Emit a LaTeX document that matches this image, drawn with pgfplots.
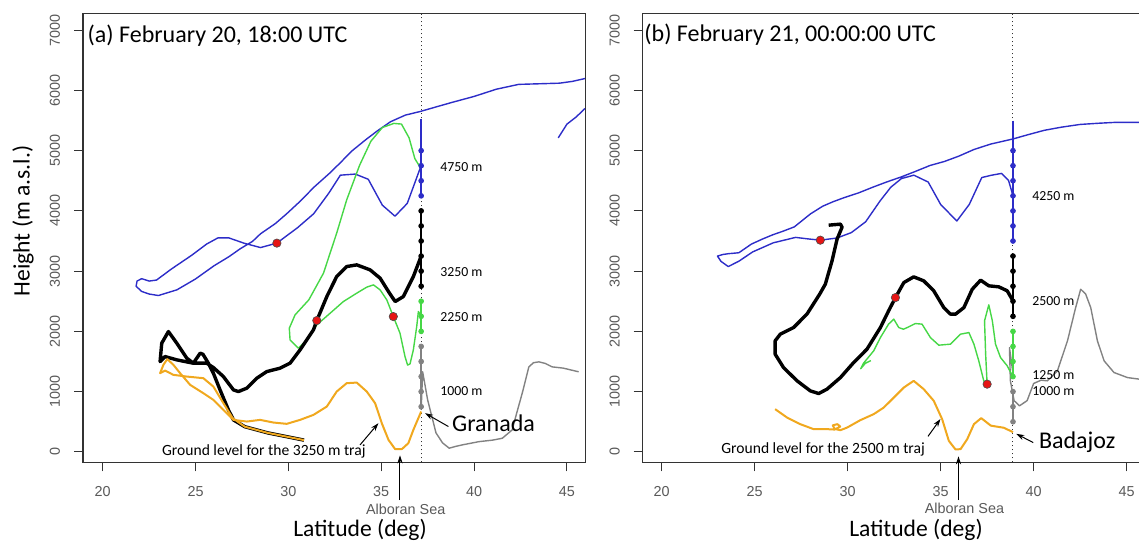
\documentclass[border=0pt]{standalone}
\usepackage{pgfplots}
\pgfplotsset{compat=1.18}
\usetikzlibrary{arrows.meta}
\usepackage{fontspec}
\setmainfont{Carlito}
\newfontfamily\arialfont{Liberation Sans}
\definecolor{trajblue}{RGB}{45,45,200}
\definecolor{trajgreen}{RGB}{70,215,70}
\definecolor{trajorange}{RGB}{240,168,30}
\definecolor{trajgray}{RGB}{130,130,130}
\definecolor{dotred}{RGB}{230,20,20}
\newcommand{\tickfont}{\arialfont\fontsize{7.2}{8}\selectfont}
\newcommand{\labfont}{\fontsize{11.8}{13}\selectfont}
\newcommand{\hfont}{\fontsize{6.9}{8}\selectfont}
\newcommand{\gfont}{\fontsize{7.8}{9}\selectfont}
\newcommand{\seafont}{\arialfont\fontsize{7.2}{8}\selectfont}

\tikzset{arr/.style={-{Stealth[length=4pt,width=2.6pt]}, line width=0.5pt, black}}
\pgfplotsset{
  panel/.style={
    scale only axis, width=251.25pt, height=224.4pt,
    xmax=46, ymin=-175, ymax=7275,
    xtick={20,25,30,35,40,45}, ytick={0,1000,2000,3000,4000,5000,6000,7000},
    xticklabels={20,25,30,35,40,45},
    yticklabels={0,1000,2000,3000,4000,5000,6000,7000},
    xtick pos=bottom, ytick pos=left,
    tick align=outside, major tick length=4.5pt,
    axis line style={black!80, line width=0.6pt},
    tick style={black!80, line width=0.5pt},
    ticklabel style={font=\tickfont, text=black!65},
    yticklabel style={rotate=90, anchor=south},
    yticklabel shift=3.5pt, xticklabel shift=4pt,
    clip=false,
  },
  refline/.style={black!80, line width=0.5pt, dash pattern=on 0.8pt off 1.2pt},
  thin traj/.style={no marks, line width=0.7pt, line join=round},
  thick traj/.style={no marks, line width=1.7pt, line join=round, black},
  vdots/.style={only marks, mark=*, mark size=1.2pt},
  red dot/.style={only marks, mark=*, mark size=2.1pt, mark options={fill=dotred, draw=black!70, line width=0.3pt}},
}

\begin{document}
\begin{tikzpicture}
\path[use as bounding box] (0,0) rectangle (569.5pt,270.5pt);
\clip (0,0) rectangle (569.5pt,270.5pt);

% ---------------- panel (a)
\begin{axis}[panel, at={(41.5pt,39.3pt)}, anchor=south west, xmin=18.94]
\addplot[refline] coordinates {(37.15,-175) (37.15,7275)};
% terrain beyond Granada
\addplot[thin traj, trajgray] coordinates {
(37.15,700) (37.23,1330) (37.5,860) (37.95,314) (38.3,150) (38.66,61) (39.0,90)
(39.37,116) (40.27,170) (41.0,195) (41.52,226) (42.05,364) (42.3,650) (42.59,971)
(42.95,1411) (43.2,1480) (43.49,1494) (43.84,1467) (44.2,1411) (44.8,1390) (45.63,1329)};
% 4750 m trajectory
\addplot[thin traj, trajblue] coordinates {
(45.97,6197) (45.3,6150) (44.6,6120) (43.5,6110) (42.4,6100) (41.8,6060) (41.2,6020)
(40.0,5900) (38.8,5800) (38.0,5730) (37.1,5650) (36.3,5590) (35.5,5480) (34.8,5330)
(34.2,5190) (33.4,4990) (32.8,4800) (32.2,4620) (31.4,4400) (30.6,4150) (29.9,3950)
(29.3,3790) (28.5,3620) (28.07,3494) (27.4,3370) (26.8,3240) (26.0,3090) (25.0,2870)
(24.0,2690) (23.0,2595) (22.5,2620) (22.1,2663) (21.8,2749) (21.85,2835) (22.1,2875)
(22.5,2835) (22.9,2852) (23.7,3035) (24.8,3265) (25.6,3450) (26.2,3551) (26.8,3551)
(27.6,3465) (28.5,3391) (29.38,3465) (30.5,3723) (31.36,3952) (32.18,4296) (32.8,4593)
(33.6,4611) (34.3,4525) (35.06,4095) (35.74,3912) (36.4,4124) (36.81,4467) (37.15,4754)};
\addplot[thin traj, trajblue] coordinates {(44.53,5212) (45.0,5440) (45.5,5560) (45.97,5699)};
% 2250 m trajectory
\addplot[thin traj, trajgreen] coordinates {
(37.15,2250) (37.0,2330) (36.91,2080) (36.73,1693) (36.55,1460) (36.42,1440) (36.28,1582)
(36.01,1970) (35.65,2246) (35.3,2523) (34.94,2689) (34.58,2772) (34.22,2734) (33.68,2634)
(32.96,2495) (32.25,2302) (31.53,2108) (30.99,1859) (30.54,1721) (30.09,1859) (30.05,2053)
(30.36,2274) (31.1,2523) (31.89,2966) (32.6,3630) (33.14,4183) (33.83,4754) (34.44,5155)
(35.06,5384) (35.68,5452) (36.09,5441) (36.5,5212) (36.81,4868) (37.15,4696)};
% 3250 m trajectory
\addplot[thick traj] coordinates {
(37.15,3250) (36.73,2910) (36.19,2578) (35.75,2495) (35.39,2661) (34.94,2883) (34.4,3021)
(33.68,3104) (33.14,3076) (32.6,2910) (32.07,2578) (31.53,2180) (31.35,2025) (30.63,1693)
(30.09,1472) (29.55,1389) (28.84,1333) (28.3,1223) (27.76,1057) (27.31,1001) (27.04,1029)
(26.5,1250) (25.96,1400) (25.6,1472) (24.88,1472) (23.99,1527) (23.36,1582) (23.09,1499)
(23.18,1804) (23.54,1997) (23.99,1804) (24.53,1555) (24.88,1472) (25.25,1638) (25.4,1620)
(25.69,1472) (25.96,1306) (26.32,1029) (26.77,697) (27.04,531) (27.65,418) (28.89,315)
(30.84,195)};
% ground level under the 3250 m trajectory
\addplot[no marks, line width=1pt, line join=round, trajorange] coordinates {
(37.15,669) (36.73,365) (36.46,144) (36.11,45) (35.75,45) (35.39,199) (35.03,476)
(34.67,808) (34.22,1001) (33.68,1150) (33.14,1140) (32.6,1001) (32.07,752) (31.35,614)
(30.63,531) (29.91,465) (29.19,487) (28.48,531) (27.76,503) (27.04,531) (26.5,697)
(25.96,863) (25.42,974) (24.71,1112) (24.17,1306) (23.81,1444) (23.48,1539) (23.27,1444)
(23.09,1306) (23.36,1349) (23.81,1278) (24.53,1250) (25.42,1223) (25.96,1084) (26.5,808)
(27.0,560) (27.65,418) (28.89,315) (30.84,195)};
% arrival heights over Granada
\addplot[no marks, trajblue, line width=0.9pt] coordinates {(37.15,5530) (37.15,4250)};
\addplot[no marks, black, line width=0.9pt] coordinates {(37.15,4000) (37.15,2750)};
\addplot[no marks, trajgreen, line width=0.9pt] coordinates {(37.15,2500) (37.15,2000)};
\addplot[no marks, trajgray, line width=0.9pt] coordinates {(37.15,1750) (37.15,750)};
\addplot[vdots, trajblue] coordinates {(37.15,5000) (37.15,4750) (37.15,4500) (37.15,4250)};
\addplot[vdots, black] coordinates {(37.15,4000) (37.15,3750) (37.15,3500) (37.15,3250) (37.15,3000) (37.15,2750)};
\addplot[vdots, trajgreen] coordinates {(37.15,2500) (37.15,2250) (37.15,2000)};
\addplot[vdots, trajgray] coordinates {(37.15,1750) (37.15,1500) (37.15,1250) (37.15,1000) (37.15,750)};
\addplot[red dot] coordinates {(29.38,3465) (31.53,2180) (35.65,2246)};
% annotations
\node[anchor=west, inner sep=0pt, font=\fontsize{12}{14}\selectfont] at (19.17,6904) {(a) February 20, 18:00 UTC};
\node[anchor=west, font=\hfont] at (37.8,4725) {4750 m};
\node[anchor=west, font=\hfont] at (37.8,2978) {3250 m};
\node[anchor=west, font=\hfont] at (37.8,2245) {2250 m};
\node[anchor=west, font=\hfont] at (37.8,1002) {1000 m};
\node[anchor=west, font=\fontsize{12}{14}\selectfont, inner sep=0pt] at (38.8,481) {Granada};
\draw[arr] (38.62,420) -- (37.36,642);
\node[anchor=west, font=\gfont, inner sep=0pt] at (23.18,5) {Ground level for the 3250 m traj};
\draw[arr] (33.86,116) -- (34.85,476);
\node[font=\seafont, text=black!65, inner sep=0pt] at (36.32,-947) {Alboran Sea};
\draw[arr] (36.01,-802) -- (36.01,-58);
\end{axis}

% ---------------- panel (b)
\begin{axis}[panel, at={(321.35pt,39.3pt)}, anchor=south west, xmin=18.98]
\addplot[refline] coordinates {(38.89,-175) (38.89,7275)};
\addplot[thin traj, trajgray] coordinates {
(38.89,1300) (38.7,1730) (38.75,1180) (38.95,850) (39.24,765) (39.65,850) (40.0,1135)
(40.4,1190) (40.74,1179) (41.28,1345) (41.82,1843) (42.26,2395) (42.53,2700) (42.8,2618)
(43.07,2395) (43.43,1843) (43.79,1511) (44.32,1317) (45.05,1233) (45.7,1206) (46,1200)};
% 4250 m trajectory
\addplot[thin traj, trajblue] coordinates {
(46,5470) (44.42,5470) (43.5,5455) (42.5,5435) (41.5,5390) (40.58,5338) (39.7,5265)
(38.9,5195) (37.69,5109) (36.8,5020) (35.97,4908) (35.2,4820) (34.43,4754) (33.6,4650)
(32.89,4565) (32.1,4480) (31.35,4393) (30.6,4300) (29.82,4221) (29.2,4150) (28.66,4078)
(28.0,3950) (27.13,3734) (26.5,3660) (25.97,3603) (25.4,3530) (24.82,3448) (24.15,3305)
(23.6,3290) (23.29,3276) (23.0,3250) (23.19,3162) (23.58,3076) (24.15,3165) (24.9,3320)
(26.0,3470) (27.2,3560) (27.9,3534) (28.53,3514) (29.43,3550) (30.2,3640) (30.97,3820)
(31.74,4164) (32.32,4393) (32.89,4536) (33.56,4593) (34.33,4479) (35.0,4107) (35.87,3832)
(36.54,4107) (37.21,4553) (37.7,4590) (38.27,4622) (38.65,4507) (38.89,4250)};
% 1250 m trajectory
\addplot[thin traj, trajgreen] coordinates {
(31.25,1515) (30.95,1470) (30.7,1380) (30.85,1470) (31.4,1677) (31.76,1897) (32.2,2120)
(32.48,2203) (32.75,2063) (33.0,2036) (33.2,2063) (33.64,2130) (34.0,2120) (34.45,1897)
(34.9,1771) (35.53,1788) (36.07,1954) (36.52,1980) (36.79,1788) (37.05,1511) (37.32,1179)
(37.5,1124) (37.42,1620) (37.36,2175) (37.59,2440) (37.78,2175) (37.95,1788) (38.22,1566)
(38.58,1428) (38.89,1245)};
% 2500 m trajectory
\addplot[thick traj] coordinates {
(38.89,2507) (38.58,2673) (38.13,2739) (37.59,2756) (37.15,2850) (36.7,2700) (36.25,2395)
(35.8,2286) (35.53,2286) (35.17,2395) (34.63,2673) (34.09,2839) (33.55,2905) (33.02,2810)
(32.57,2561) (32.2,2340) (31.76,2063) (31.04,1705) (30.32,1482) (29.61,1233) (28.89,1041)
(28.44,968) (27.99,1013) (27.28,1179) (26.55,1400) (26.1,1622) (26.1,1843) (26.38,1954)
(27.09,2063) (27.81,2286) (28.5,2620) (28.8,2784) (29.16,3170) (29.43,3530) (29.7,3730)
(29.61,3780) (28.98,3763)};
% ground level under the 2500 m trajectory
\addplot[no marks, line width=1pt, line join=round, trajorange] coordinates {
(38.89,327) (38.4,400) (37.7,435) (37.18,560) (36.79,460) (36.43,211) (36.07,45)
(35.8,40) (35.44,183) (35.08,543) (34.63,847) (34.09,1041) (33.55,1179) (33.02,1068)
(32.48,901) (31.94,735) (31.4,626) (30.68,526) (29.97,403) (29.61,360) (29.3,380)
(29.2,440) (29.45,460) (29.6,420) (29.3,370) (28.89,377) (28.17,377) (27.45,460)
(26.74,570) (26.1,709)};
% arrival heights over Badajoz
\addplot[no marks, trajblue, line width=0.9pt] coordinates {(38.89,5500) (38.89,3500)};
\addplot[no marks, black, line width=0.9pt] coordinates {(38.89,3250) (38.89,2250)};
\addplot[no marks, trajgreen, line width=0.9pt] coordinates {(38.89,2000) (38.89,1250)};
\addplot[no marks, trajgray, line width=0.9pt] coordinates {(38.89,1000) (38.89,500)};
\addplot[vdots, trajblue] coordinates {(38.89,5000) (38.89,4750) (38.89,4500) (38.89,4250) (38.89,4000) (38.89,3750) (38.89,3500)};
\addplot[vdots, black] coordinates {(38.89,3250) (38.89,3000) (38.89,2750) (38.89,2500) (38.89,2250)};
\addplot[vdots, trajgreen] coordinates {(38.89,2000) (38.89,1750) (38.89,1500) (38.89,1250)};
\addplot[vdots, trajgray] coordinates {(38.89,1000) (38.89,750) (38.89,500)};
\addplot[red dot] coordinates {(28.53,3514) (32.57,2561) (37.5,1124)};
% annotations
\node[anchor=west, inner sep=0pt, font=\fontsize{12}{14}\selectfont] at (19.05,6930) {(b) February 21, 00:00:00 UTC};
\node[anchor=west, font=\hfont] at (39.55,4250) {4250 m};
\node[anchor=west, font=\hfont] at (39.55,2503) {2500 m};
\node[anchor=west, font=\hfont] at (39.55,1272) {1250 m};
\node[anchor=west, font=\hfont] at (39.55,1013) {1000 m};
\node[anchor=west, font=\fontsize{12}{14}\selectfont, inner sep=0pt] at (40.27,154) {Badajoz};
\draw[arr] (39.98,154) -- (39.07,299);
\node[anchor=west, font=\gfont, inner sep=0pt] at (23.19,40) {Ground level for the 2500 m traj};
\draw[arr] (34.32,257) -- (34.99,545);
\node[font=\seafont, text=black!65, inner sep=0pt] at (36.28,-930) {Alboran Sea};
\draw[arr] (35.96,-800) -- (35.96,-75);
\end{axis}

% axis titles
\node[font=\labfont] at (180pt,5.5pt) {Latitude (deg)};
\node[font=\labfont] at (458pt,5.6pt) {Latitude (deg)};
\node[font=\labfont, rotate=90] at (11.5pt,160pt) {Height (m a.s.l.)};
\end{tikzpicture}
\end{document}
